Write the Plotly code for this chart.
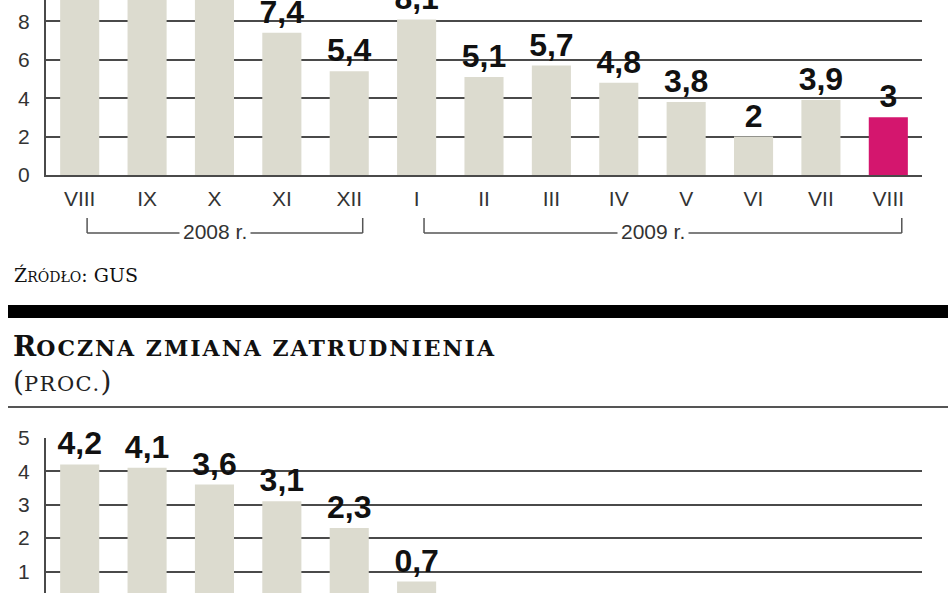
import plotly.graph_objects as go

# month labels on the shared x axis (Aug 2008 .. Aug 2009)
months = ["VIII", "IX", "X", "XI", "XII", "I", "II", "III", "IV", "V", "VI", "VII", "VIII"]
years = ["2008 r.", "2009 r."]
year_spans = [(0, 4), (5, 12)]  # first / last month index for each year bracket

# top panel: values (first three bars run off the top of the crop)
wages = [10.8, 10.0, 9.6, 7.4, 5.4, 8.1, 5.1, 5.7, 4.8, 3.8, 2.0, 3.9, 3.0]
# bottom panel: annual change in employment, % (2009 values fall below the crop)
employment = [4.2, 4.1, 3.6, 3.1, 2.3, 0.7, -0.2, -0.9, -1.5, -1.9, -2.1, -2.4, -2.5]

top_ticks = [0, 2, 4, 6, 8]
bottom_ticks = [1, 2, 3, 4, 5]

GREY_BAR = "#dcdbcf"
PINK = "#d4166e"
LINE = "#4a4a4a"
SANS = "Liberation Sans, Arial, sans-serif"
SERIF = "DejaVu Serif, Liberation Serif, serif"

W, H = 948, 593


def px_x(p):
    return p / W


def px_y(p):
    return 1 - p / H


def pl(v):
    # polish decimal comma, integers without ",0"
    return f"{v:g}".replace(".", ",")


x = list(range(len(months)))
colors = [GREY_BAR] * (len(months) - 1) + [PINK]
label_font = dict(family=SANS, size=32, color="#111", weight="bold")

fig = go.Figure()

fig.add_trace(go.Bar(
    x=x, y=wages, width=0.58,
    marker=dict(color=colors, line=dict(width=0)),
    text=[pl(v) for v in wages], textposition="outside",
    textfont=label_font, constraintext="none", cliponaxis=True,
    xaxis="x", yaxis="y", showlegend=False, hoverinfo="skip",
))

fig.add_trace(go.Bar(
    x=x, y=employment, width=0.58,
    marker=dict(color=colors, line=dict(width=0)),
    text=[pl(v) for v in employment], textposition="outside",
    textfont=label_font, constraintext="none", cliponaxis=False,
    xaxis="x2", yaxis="y2", showlegend=False, hoverinfo="skip",
))

# ── bracket lines under the month labels ───────────────────────
shapes = []
annotations = []
br_top, br_bot = px_y(218), px_y(233)
for label, (a, b) in zip(years, year_spans):
    x0, x1 = a + 0.11, b + 0.2
    for seg in [(x0, br_top, x0, br_bot), (x0, br_bot, x1, br_bot), (x1, br_top, x1, br_bot)]:
        shapes.append(dict(type="line", xref="x", yref="paper",
                           x0=seg[0], y0=seg[1], x1=seg[2], y1=seg[3],
                           line=dict(color="#555", width=1.5)))
    annotations.append(dict(
        x=(x0 + x1) / 2 - 0.15, y=px_y(231), xref="x", yref="paper",
        text=label, showarrow=False, bgcolor="white", borderpad=3,
        font=dict(family=SANS, size=21, color="#333"),
    ))

# source note
annotations.append(dict(
    x=px_x(12), y=px_y(275), xref="paper", yref="paper",
    xanchor="left", yanchor="middle", showarrow=False,
    text="Ź<span style='font-size:14px'>RÓDŁO</span>: GUS",
    font=dict(family=SERIF, size=19, color="#111"),
))

# second panel heading
annotations.append(dict(
    x=px_x(11), y=px_y(347), xref="paper", yref="paper",
    xanchor="left", yanchor="middle", showarrow=False,
    text="R<span style='font-size:22px;letter-spacing:2px'>OCZNA ZMIANA ZATRUDNIENIA</span>",
    font=dict(family=SERIF, size=28, color="#111", weight="bold"),
))
annotations.append(dict(
    x=px_x(11), y=px_y(381), xref="paper", yref="paper",
    xanchor="left", yanchor="middle", showarrow=False,
    text="(<span style='font-size:21px;letter-spacing:1.5px'>PROC.</span>)",
    font=dict(family=SERIF, size=28, color="#222"),
))

# thick black separator and thin rule under the heading
shapes.append(dict(type="rect", xref="paper", yref="paper",
                   x0=px_x(8), x1=1.0, y0=px_y(318), y1=px_y(305),
                   fillcolor="black", line=dict(width=0)))
shapes.append(dict(type="line", xref="paper", yref="paper",
                   x0=px_x(8), x1=1.0, y0=px_y(407), y1=px_y(407),
                   line=dict(color="#555", width=2)))

xdom = [px_x(46), px_x(922)]
axis_font = dict(family=SANS, size=21, color="#333")

fig.update_layout(
    width=W, height=H,
    margin=dict(l=0, r=0, t=0, b=0, autoexpand=False),
    paper_bgcolor="white", plot_bgcolor="white",
    bargap=0.42,
    xaxis=dict(
        domain=xdom, anchor="y", range=[-0.5, 12.5], automargin=False,
        tickmode="array", tickvals=x, ticktext=months,
        tickfont=axis_font, ticks="", ticklabelstandoff=4,
        showgrid=False, zeroline=False,
        showline=True, linecolor=LINE, linewidth=2,
    ),
    yaxis=dict(
        domain=[px_y(175), 1], anchor="x", range=[0, 175 / 19.21], automargin=False,
        tickmode="array", tickvals=top_ticks, tickfont=axis_font,
        ticks="", ticklabelstandoff=10,
        showgrid=True, gridcolor=LINE, gridwidth=2, zeroline=False,
        showline=True, linecolor=LINE, linewidth=2,
    ),
    xaxis2=dict(
        domain=xdom, anchor="y2", range=[-0.5, 12.5], automargin=False,
        showticklabels=False, ticks="", showgrid=False, zeroline=False,
    ),
    yaxis2=dict(
        domain=[0, px_y(437.7)], anchor="x2", range=[0.36, 5], automargin=False,
        tickmode="array", tickvals=bottom_ticks, tickfont=axis_font,
        ticks="", ticklabelstandoff=10,
        showgrid=True, gridcolor=LINE, gridwidth=2, zeroline=False,
        showline=True, linecolor=LINE, linewidth=2,
    ),
    shapes=shapes,
    annotations=annotations,
)

# drop the browser's default page margin so the figure sits at the corner
fig.write_html(
    "out.html",
    config={"displayModeBar": False},
    post_script="document.body.style.margin = '0';",
)
